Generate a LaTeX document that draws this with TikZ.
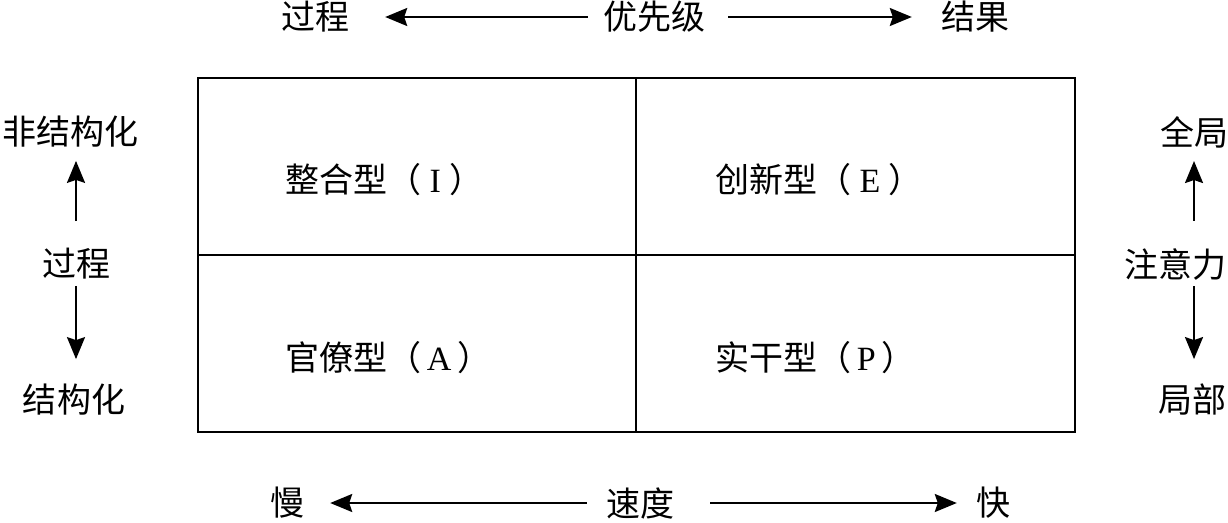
\documentclass[tikz,border=0pt]{standalone}
\usepackage{fontspec}
\setmainfont{Liberation Serif}
\newfontfamily\cjk{Noto Sans CJK SC}
\usetikzlibrary{arrows.meta}

\begin{document}
\begin{tikzpicture}[x=1pt,y=-1pt,
  lbl/.style={font=\cjk\fontsize{34}{40}\selectfont,inner sep=0pt},
  cell/.style={font=\fontsize{34}{40}\selectfont,anchor=west,inner sep=0pt},
  arrow/.style={-{Stealth[length=22pt,width=18pt,inset=3pt]},line width=2.2pt},
  grid/.style={line width=1.8pt}
]
\useasboundingbox (0,0) rectangle (1228,522);

% top: priority
\node[lbl] (procT) at (315,17) {过程};
\node[lbl] (prio) at (654,17) {优先级};
\node[lbl] (result) at (975,17) {结果};
\draw[arrow,shorten <=15pt,shorten >=36pt] (prio) -- (procT);
\draw[arrow,shorten <=23pt,shorten >=29pt] (prio) -- (result);

% left: process
\node[lbl] (unstr) at (70,132) {非结构化};
\node[lbl] (procL) at (76,264) {过程};
\node[lbl] (struct) at (74,400) {结构化};
\draw[arrow,shorten <=27pt,shorten >=13pt] (procL.north) -- (procL.north |- unstr.south);
\draw[arrow,shorten <=6pt,shorten >=25pt] (procL.south) -- (procL.south |- struct.north);

% right: attention
\node[lbl] (whole) at (1194,132) {全局};
\node[lbl] (attn) at (1175,264) {注意力};
\node[lbl] (part) at (1192,400) {局部};
\draw[arrow,shorten <=27pt,shorten >=13pt] (attn.north -| whole.south) -- (whole.south);
\draw[arrow,shorten <=6pt,shorten >=25pt] (attn.south -| whole.south) -- (part.north -| whole.south);

% bottom: speed
\node[lbl] (slow) at (287,503) {慢};
\node[lbl] (speed) at (640,503) {速度};
\node[lbl] (fast) at (993,503) {快};
\draw[arrow,shorten <=19pt,shorten >=26pt] (speed) -- (slow);
\draw[arrow,shorten <=36pt,shorten >=19pt] (speed) -- (fast);

% grid
\draw[grid] (198,78) rectangle (1075,432);
\draw[grid] (636,78) -- (636,432);
\draw[grid] (198,255) -- (1075,255);

\node[cell] (typeI) at (285,180) {{\cjk 整合型（}\ I\ {\cjk ）}};
\node[cell] (typeE) at (715,180) {{\cjk 创新型（}\ E\ {\cjk ）}};
\node[cell] (typeA) at (285,358) {{\cjk 官僚型（}\,A\,{\cjk ）}};
\node[cell] (typeP) at (715,358) {{\cjk 实干型（}\,P\,{\cjk ）}};
\end{tikzpicture}
\end{document}
